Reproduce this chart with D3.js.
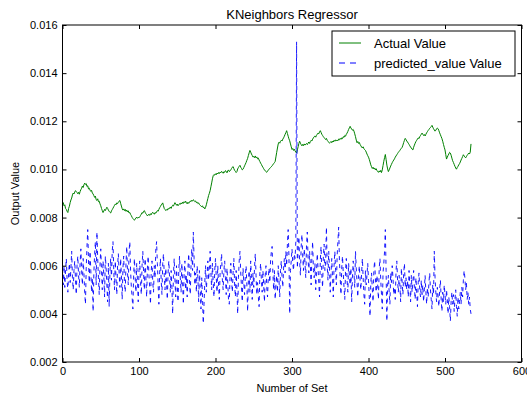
<!DOCTYPE html>
<html>
<head>
<meta charset="utf-8">
<script src="https://cdn.jsdelivr.net/npm/d3@7"></script>
<style>
  html, body { margin: 0; padding: 0; background: #fff; }
  svg { display: block; font-family: "Liberation Sans", Arial, sans-serif; }
</style>
</head>
<body>
<svg id="chart" width="527" height="397"></svg>
<script>
// Chart text
const chartTitle = "KNeighbors Regressor";
const xLabel = "Number of Set";
const yLabel = "Output Value";
const seriesNames = ["Actual Value", "predicted_value Value"];

// Axis ticks
const xTicks = [0, 100, 200, 300, 400, 500, 600];
const yTicks = [0.002, 0.004, 0.006, 0.008, 0.010, 0.012, 0.014, 0.016];

// Actual values, one per set (index 0..534)
const actualValues = [
.00858,.00862,.00849,.00853,.00838,.00834,.00826,.00821,.00838,.00847,
.00862,.00873,.00881,.00894,.00902,.00898,.00906,.00912,.00908,.00904,
.00899,.00905,.00897,.00908,.00916,.00922,.00931,.00925,.00936,.00943,
.00938,.00941,.00929,.00932,.00919,.00922,.00914,.00909,.00913,.00902,
.00898,.00891,.00884,.00889,.00874,.00871,.00878,.00866,.00868,.00857,
.00849,.00838,.00829,.00821,.00827,.00834,.00829,.00836,.00843,.00838,
.00831,.00826,.00822,.00819,.00828,.00833,.00839,.00845,.00851,.00856,
.00853,.00861,.00858,.00864,.00868,.00871,.00859,.00848,.00837,.00831,
.00836,.00829,.00834,.00826,.00831,.00824,.00828,.00819,.00821,.00813,
.00808,.00801,.00796,.00792,.00789,.00794,.00798,.00802,.00797,.00801,
.00799,.00803,.00809,.00814,.00821,.00818,.00826,.00829,.00822,.00816,
.00812,.00807,.00811,.00814,.00809,.00816,.00812,.00819,.00822,.00817,
.00814,.00821,.00818,.00824,.00829,.00826,.00834,.00841,.00846,.00852,
.00856,.00861,.00849,.00838,.00834,.00829,.00833,.00831,.00838,.00835,
.00839,.00844,.00838,.00846,.00851,.00848,.00855,.00862,.00857,.00851,
.00856,.00849,.00853,.00858,.00855,.00861,.00857,.00864,.00859,.00866,
.00862,.00868,.00861,.00857,.00864,.00859,.00863,.00869,.00866,.00872,
.00868,.00874,.00871,.00866,.00869,.00862,.00864,.00858,.00861,.00854,
.00851,.00848,.00845,.00849,.00841,.00843,.00836,.00842,.00853,.00866,
.00879,.00892,.00901,.00912,.00928,.00944,.00961,.00974,.00979,.00976,
.00982,.00978,.00985,.00981,.00987,.00983,.00989,.00986,.00992,.00988,
.00984,.00991,.00988,.00995,.00992,.00986,.00994,.00998,.00991,.00994,
.00998,.01004,.01009,.01012,.01003,.00996,.00992,.00987,.00991,.01002,
.01008,.01013,.01017,.01009,.01004,.00998,.01001,.01008,.01015,.01022,
.01029,.01038,.01046,.01058,.01069,.01079,.01072,.01064,.01058,.01051,
.01054,.01049,.01056,.01048,.01052,.01044,.01047,.01039,.01033,.01026,
.01021,.01014,.01009,.01003,.00998,.00994,.00991,.00988,.00993,.00997,
.01001,.01005,.01008,.01011,.01016,.01019,.01024,.01028,.01033,.01052,
.01071,.01089,.01106,.01113,.01109,.01117,.01121,.01118,.01126,.01131,
.01138,.01146,.01153,.01161,.01149,.01138,.01127,.01119,.01106,.01094,
.01083,.01087,.01079,.01084,.01077,.01072,.01068,.01081,.01094,.01108,
.01117,.01109,.01103,.01098,.01104,.01099,.01106,.01101,.01105,.01108,
.01103,.01109,.01114,.01108,.01116,.01121,.01118,.01126,.01131,.01136,
.01139,.01134,.01142,.01146,.01151,.01148,.01156,.01161,.01154,.01146,
.01141,.01136,.01132,.01128,.01124,.01129,.01121,.01117,.01113,.01109,
.01112,.01116,.01111,.01118,.01114,.01121,.01117,.01123,.01118,.01122,
.01119,.01126,.01123,.01129,.01125,.01131,.01128,.01136,.01133,.01141,
.01138,.01146,.01151,.01158,.01166,.01173,.01179,.01172,.01168,.01163,
.01166,.01159,.01148,.01136,.01122,.01111,.01116,.01108,.01112,.01104,
.01098,.01093,.01089,.01094,.01086,.01082,.01079,.01072,.01064,.01057,
.01051,.01042,.01031,.01019,.01011,.01004,.01009,.01002,.01006,.00998,
.01003,.00996,.00991,.00988,.00994,.00989,.00996,.00987,.00998,.01016,
.01034,.01049,.01062,.01041,.01018,.01002,.00991,.00998,.01006,.01014,
.01021,.01028,.01034,.01039,.01044,.01051,.01056,.01061,.01066,.01071,
.01075,.01079,.01084,.01088,.01092,.01101,.01112,.01121,.01129,.01124,
.01118,.01114,.01109,.01104,.01098,.01093,.01089,.01084,.01081,.01092,
.01101,.01109,.01116,.01121,.01126,.01131,.01128,.01136,.01141,.01146,
.01151,.01146,.01141,.01145,.01139,.01146,.01152,.01157,.01162,.01166,
.01171,.01174,.01178,.01183,.01176,.01169,.01164,.01159,.01163,.01168,
.01172,.01169,.01161,.01152,.01144,.01136,.01128,.01117,.01104,.01092,
.01081,.01062,.01043,.01051,.01058,.01064,.01071,.01068,.01059,.01047,
.01036,.01029,.01021,.01013,.01006,.01001,.01008,.01013,.01019,.01024,
.01031,.01039,.01046,.01053,.01061,.01056,.01052,.01048,.01053,.01059,
.01063,.01068,.01064,.01072,.01106
];

// Predicted values, one per set (index 0..534)
const predictedValues = [
.0056,.0052,.0060,.0051,.0058,.0063,.0054,.0049,.0057,.0061,
.0053,.0059,.0066,.0055,.0050,.0058,.0062,.0054,.0048,.0060,
.0064,.0056,.0051,.0061,.0067,.0058,.0052,.0063,.0057,.0049,
.0044,.0059,.0068,.0075,.0062,.0053,.0066,.0058,.0049,.0055,
.0041,.0057,.0065,.0070,.0052,.0074,.0063,.0055,.0048,.0060,
.0067,.0058,.0050,.0062,.0056,.0047,.0064,.0059,.0052,.0045,
.0061,.0043,.0057,.0063,.0054,.0066,.0070,.0058,.0050,.0062,
.0055,.0048,.0060,.0065,.0057,.0051,.0063,.0056,.0046,.0059,
.0064,.0053,.0049,.0061,.0068,.0057,.0052,.0066,.0070,.0058,
.0051,.0047,.0042,.0056,.0063,.0055,.0049,.0061,.0054,.0045,
.0058,.0062,.0053,.0048,.0060,.0066,.0057,.0050,.0063,.0055,
.0047,.0059,.0064,.0056,.0051,.0044,.0058,.0062,.0053,.0049,
.0060,.0055,.0067,.0070,.0061,.0052,.0044,.0057,.0063,.0054,
.0048,.0061,.0065,.0056,.0050,.0059,.0053,.0046,.0057,.0062,
.0055,.0049,.0058,.0051,.0040,.0056,.0063,.0054,.0047,.0060,
.0052,.0045,.0058,.0064,.0055,.0049,.0061,.0053,.0044,.0057,
.0062,.0050,.0056,.0047,.0059,.0065,.0054,.0048,.0060,.0067,
.0058,.0074,.0063,.0052,.0057,.0049,.0060,.0055,.0045,.0058,
.0051,.0042,.0055,.0047,.0036,.0044,.0053,.0060,.0049,.0056,
.0062,.0054,.0059,.0066,.0057,.0050,.0061,.0053,.0047,.0058,
.0063,.0055,.0049,.0060,.0052,.0046,.0057,.0061,.0065,.0054,
.0050,.0058,.0062,.0055,.0048,.0059,.0053,.0046,.0044,.0056,
.0061,.0054,.0049,.0057,.0063,.0052,.0047,.0058,.0050,.0040,
.0055,.0062,.0066,.0057,.0051,.0045,.0059,.0053,.0048,.0056,
.0060,.0052,.0041,.0054,.0058,.0049,.0062,.0055,.0046,.0057,
.0051,.0059,.0065,.0056,.0048,.0053,.0047,.0043,.0057,.0061,
.0054,.0049,.0058,.0052,.0045,.0056,.0060,.0051,.0047,.0055,
.0059,.0053,.0062,.0066,.0068,.0057,.0050,.0058,.0046,.0052,
.0056,.0049,.0060,.0054,.0047,.0058,.0062,.0055,.0051,.0059,
.0063,.0057,.0066,.0060,.0069,.0075,.0064,.0040,.0058,.0062,
.0067,.0061,.0058,.0065,.0063,.0070,.0153,.0059,.0066,.0072,
.0062,.0056,.0068,.0073,.0064,.0058,.0067,.0061,.0055,.0069,
.0074,.0063,.0057,.0066,.0060,.0052,.0064,.0070,.0058,.0055,
.0061,.0050,.0057,.0065,.0059,.0053,.0047,.0062,.0068,.0056,
.0051,.0064,.0069,.0058,.0062,.0076,.0060,.0054,.0066,.0059,
.0049,.0057,.0063,.0055,.0047,.0060,.0066,.0058,.0052,.0064,
.0070,.0076,.0062,.0055,.0048,.0059,.0064,.0057,.0051,.0046,
.0058,.0063,.0054,.0049,.0061,.0056,.0052,.0059,.0045,.0055,
.0062,.0057,.0051,.0066,.0059,.0053,.0047,.0056,.0060,.0054,
.0050,.0057,.0063,.0055,.0048,.0044,.0058,.0052,.0056,.0061,
.0054,.0047,.0039,.0053,.0057,.0050,.0045,.0058,.0062,.0055,
.0049,.0056,.0052,.0046,.0059,.0063,.0054,.0048,.0042,.0057,
.0061,.0066,.0075,.0058,.0037,.0052,.0056,.0049,.0044,.0057,
.0053,.0060,.0055,.0048,.0051,.0046,.0058,.0062,.0054,.0049,
.0056,.0052,.0045,.0059,.0053,.0048,.0057,.0061,.0051,.0055,
.0050,.0054,.0047,.0058,.0052,.0045,.0056,.0049,.0053,.0058,
.0051,.0046,.0055,.0049,.0043,.0053,.0057,.0050,.0047,.0054,
.0048,.0052,.0045,.0050,.0056,.0049,.0044,.0051,.0047,.0053,
.0057,.0050,.0046,.0042,.0052,.0048,.0066,.0055,.0049,.0045,
.0051,.0047,.0043,.0050,.0054,.0046,.0041,.0049,.0045,.0052,
.0048,.0044,.0050,.0046,.0040,.0047,.0043,.0037,.0045,.0049,
.0044,.0048,.0041,.0046,.0050,.0043,.0039,.0047,.0042,.0045,
.0049,.0044,.0051,.0047,.0054,.0058,.0055,.0050,.0053,.0046,
.0049,.0044,.0047,.0042,.0040
];

// Colours
const actualColor = "#008000";
const predictedColor = "#0000ff";

const svg = d3.select("#chart");
const W = 527, H = 397;
const plot = { left: 62.5, right: 521.5, top: 25, bottom: 362 };

const x = d3.scaleLinear().domain([0, 600]).range([plot.left, plot.right]);
const y = d3.scaleLinear().domain([0.002, 0.016]).range([plot.bottom, plot.top]);

svg.append("rect").attr("width", W).attr("height", H).attr("fill", "#fff");

// Data lines, clipped to the axes box
svg.append("clipPath").attr("id", "plotClip")
  .append("rect")
  .attr("x", plot.left).attr("y", plot.top)
  .attr("width", plot.right - plot.left).attr("height", plot.bottom - plot.top);

const lines = svg.append("g").attr("clip-path", "url(#plotClip)");
const lineGen = d3.line().x((d, i) => x(i)).y(d => y(d));

lines.append("path")
  .datum(actualValues)
  .attr("fill", "none")
  .attr("stroke", actualColor)
  .attr("stroke-width", 1)
  .attr("stroke-linejoin", "round")
  .attr("d", lineGen);

lines.append("path")
  .datum(predictedValues)
  .attr("fill", "none")
  .attr("stroke", predictedColor)
  .attr("stroke-width", 0.9)
  .attr("stroke-dasharray", "4,4")
  .attr("d", lineGen);

// Axes with inward ticks on all four sides
const tickLen = 4;
const yFmt = d3.format(".3f");

const gx = svg.append("g")
  .attr("transform", `translate(0,${plot.bottom})`)
  .call(d3.axisBottom(x).tickValues(xTicks).tickSizeInner(-tickLen).tickSizeOuter(0).tickPadding(5));
const gy = svg.append("g")
  .attr("transform", `translate(${plot.left},0)`)
  .call(d3.axisLeft(y).tickValues(yTicks).tickFormat(yFmt).tickSizeInner(-tickLen).tickSizeOuter(0).tickPadding(5));
const gt = svg.append("g")
  .attr("transform", `translate(0,${plot.top})`)
  .call(d3.axisTop(x).tickValues(xTicks).tickFormat("").tickSizeInner(-tickLen).tickSizeOuter(0));
const gr = svg.append("g")
  .attr("transform", `translate(${plot.right},0)`)
  .call(d3.axisRight(y).tickValues(yTicks).tickFormat("").tickSizeInner(-tickLen).tickSizeOuter(0));

[gx, gy, gt, gr].forEach(g => {
  g.select(".domain").remove();
  g.selectAll(".tick line").attr("stroke", "#000").attr("stroke-width", 1);
  g.selectAll(".tick text")
    .attr("fill", "#000")
    .style("font-family", "'Liberation Sans', Arial, sans-serif")
    .style("font-size", "11px");
});

// Axes frame
svg.append("rect")
  .attr("x", plot.left).attr("y", plot.top)
  .attr("width", plot.right - plot.left).attr("height", plot.bottom - plot.top)
  .attr("fill", "none").attr("stroke", "#000").attr("stroke-width", 1);

// Title and axis labels
svg.append("text")
  .attr("x", (plot.left + plot.right) / 2).attr("y", 18.5)
  .attr("text-anchor", "middle")
  .style("font-size", "13px")
  .text(chartTitle);

svg.append("text")
  .attr("x", (plot.left + plot.right) / 2).attr("y", 392)
  .attr("text-anchor", "middle")
  .style("font-size", "11px")
  .text(xLabel);

svg.append("text")
  .attr("transform", `translate(19,${(plot.top + plot.bottom) / 2}) rotate(-90)`)
  .attr("text-anchor", "middle")
  .style("font-size", "11px")
  .text(yLabel);

// Legend
const legend = svg.append("g");
const lg = { x0: 332, y0: 31, x1: 515, y1: 76 };
legend.append("rect")
  .attr("x", lg.x0).attr("y", lg.y0)
  .attr("width", lg.x1 - lg.x0).attr("height", lg.y1 - lg.y0)
  .attr("fill", "#fff").attr("stroke", "#000").attr("stroke-width", 1);

const legendItems = [
  { name: seriesNames[0], color: actualColor, dash: null },
  { name: seriesNames[1], color: predictedColor, dash: "6,5" }
];
legendItems.forEach((item, i) => {
  const cy = 43 + i * 20;
  legend.append("line")
    .attr("x1", 339).attr("x2", 361).attr("y1", cy).attr("y2", cy)
    .attr("stroke", item.color).attr("stroke-width", 1)
    .attr("stroke-dasharray", item.dash);
  legend.append("text")
    .attr("x", 374).attr("y", cy + 4.5)
    .style("font-size", "13px")
    .text(item.name);
});
</script>
</body>
</html>
